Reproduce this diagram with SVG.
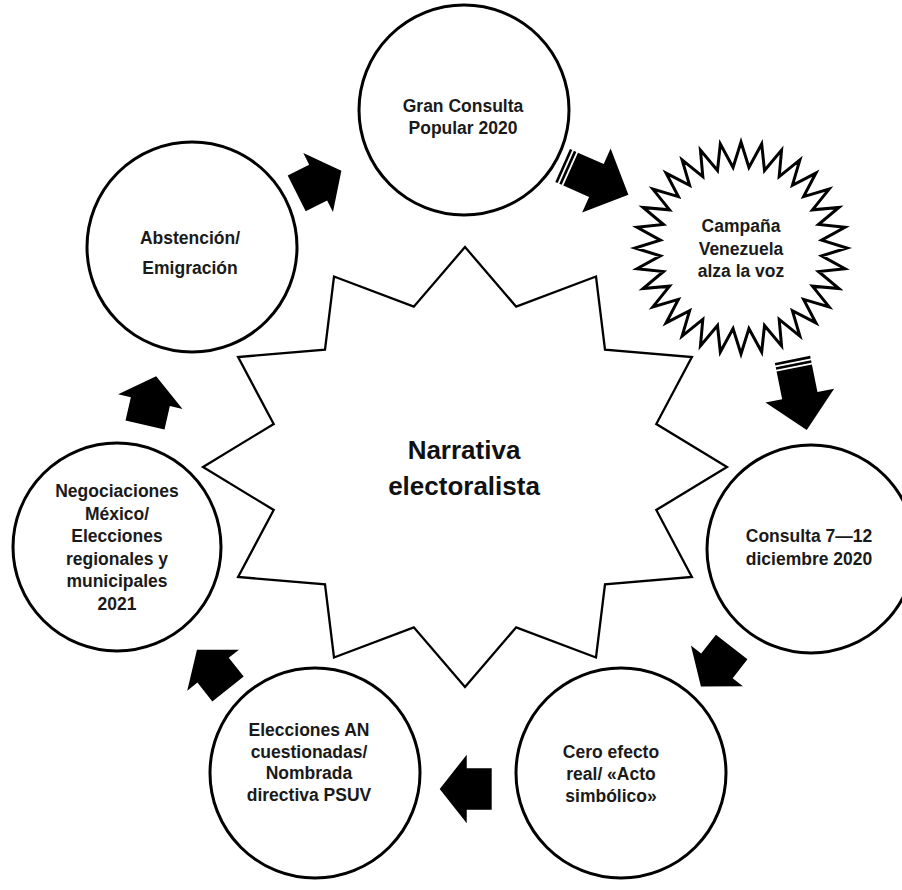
<svg xmlns="http://www.w3.org/2000/svg" xmlns:xlink="http://www.w3.org/1999/xlink" width="902" height="890" viewBox="0 0 902 890">
<style>
.node{fill:#fff;stroke:#000;stroke-width:3}
.star{fill:#fff;stroke:#000;stroke-width:2.3;stroke-linejoin:miter}
.burst{fill:#fff;stroke:#000;stroke-width:3;stroke-linejoin:miter}
.t{font-family:"Liberation Sans",Arial,sans-serif;font-weight:bold;font-size:17.5px;fill:#1a1a1a;text-anchor:middle}
.big{font-size:26px;fill:#111}
.arr{fill:#000}
</style>
<defs>
<path id="blk" d="M0,-20 H24 V-33 L50,0 L24,33 V20 H0 Z"/>
<g id="str"><rect x="0" y="-18" width="2.6" height="36"/><rect x="4.4" y="-18" width="2.6" height="36"/><path d="M8.8,-18 H37 V-35 L72,0 L37,35 V18 H8.8 Z"/></g>
</defs>
<g id="center">
<polygon class="star" transform="translate(465,467)" points="0,-220 51.2,-160.3 131,-190.5 140,-117.4 226.9,-110 191.3,-43 262,0 191.3,43 226.9,110 140,117.4 131,190.5 51.2,160.3 0,220 -51.2,160.3 -131,190.5 -140,117.4 -226.9,110 -191.3,43 -262,0 -191.3,-43 -226.9,-110 -140,-117.4 -131,-190.5 -51.2,-160.3"/>
<text class="t big" x="464" y="459">Narrativa</text>
<text class="t big" x="464" y="495">electoralista</text>
</g>
<g id="gran-consulta">
<circle class="node" cx="464" cy="110" r="105"/>
<text class="t" x="463" y="112">Gran Consulta</text>
<text class="t" x="463" y="134">Popular 2020</text>
</g>
<g id="campana">
<polygon class="burst" transform="translate(741,248)" points="0,-106 7.94,-80.61 20.68,-103.96 23.51,-77.51 40.56,-97.93 38.18,-71.44 58.89,-88.14 51.39,-62.61 74.95,-74.95 62.61,-51.39 88.14,-58.89 71.44,-38.18 97.93,-40.56 77.51,-23.51 103.96,-20.68 80.61,-7.94 106,0 80.61,7.94 103.96,20.68 77.51,23.51 97.93,40.56 71.44,38.18 88.14,58.89 62.61,51.39 74.95,74.95 51.39,62.61 58.89,88.14 38.18,71.44 40.56,97.93 23.51,77.51 20.68,103.96 7.94,80.61 0,106 -7.94,80.61 -20.68,103.96 -23.51,77.51 -40.56,97.93 -38.18,71.44 -58.89,88.14 -51.39,62.61 -74.95,74.95 -62.61,51.39 -88.14,58.89 -71.44,38.18 -97.93,40.56 -77.51,23.51 -103.96,20.68 -80.61,7.94 -106,0 -80.61,-7.94 -103.96,-20.68 -77.51,-23.51 -97.93,-40.56 -71.44,-38.18 -88.14,-58.89 -62.61,-51.39 -74.95,-74.95 -51.39,-62.61 -58.89,-88.14 -38.18,-71.44 -40.56,-97.93 -23.51,-77.51 -20.68,-103.96 -7.94,-80.61"/>
<text class="t" x="741" y="232">Campaña</text>
<text class="t" x="741" y="255">Venezuela</text>
<text class="t" x="741" y="277">alza la voz</text>
</g>
<g id="consulta-dic">
<circle class="node" cx="811" cy="549" r="104"/>
<text class="t" x="809" y="542">Consulta 7—12</text>
<text class="t" x="809" y="565">diciembre 2020</text>
</g>
<g id="cero-efecto">
<circle class="node" cx="621" cy="773" r="105"/>
<text class="t" x="611" y="758">Cero efecto</text>
<text class="t" x="611" y="780">real/ «Acto</text>
<text class="t" x="611" y="802">simbólico»</text>
</g>
<g id="elecciones-an">
<circle class="node" cx="315" cy="773" r="105"/>
<text class="t" x="309" y="736">Elecciones AN</text>
<text class="t" x="309" y="758">cuestionadas/</text>
<text class="t" x="309" y="779">Nombrada</text>
<text class="t" x="309" y="801">directiva PSUV</text>
</g>
<g id="negociaciones">
<circle class="node" cx="117" cy="547" r="104"/>
<text class="t" x="117" y="497">Negociaciones</text>
<text class="t" x="117" y="519.5">México/</text>
<text class="t" x="117" y="542">Elecciones</text>
<text class="t" x="117" y="564.5">regionales y</text>
<text class="t" x="117" y="587">municipales</text>
<text class="t" x="117" y="609.5">2021</text>
</g>
<g id="abstencion">
<circle class="node" cx="192" cy="247" r="105"/>
<text class="t" x="190" y="244">Abstención/</text>
<text class="t" x="190" y="274">Emigración</text>
</g>
<g id="connectors" class="arr">
<use xlink:href="#blk" href="#blk" transform="translate(296.7,193.3) rotate(-26.7)"/>
<use xlink:href="#str" href="#str" transform="translate(562.6,165.5) rotate(24)"/>
<use xlink:href="#str" href="#str" transform="translate(792.5,359.4) rotate(78.6)"/>
<use xlink:href="#blk" href="#blk" transform="translate(731.7,647) rotate(128)"/>
<use xlink:href="#blk" href="#blk" transform="translate(491.7,789) rotate(180) scale(1.04)"/>
<use xlink:href="#blk" href="#blk" transform="translate(228,689) rotate(-128.4)"/>
<use xlink:href="#blk" href="#blk" transform="translate(145,425) rotate(-77.1)"/>
</g>
</svg>
